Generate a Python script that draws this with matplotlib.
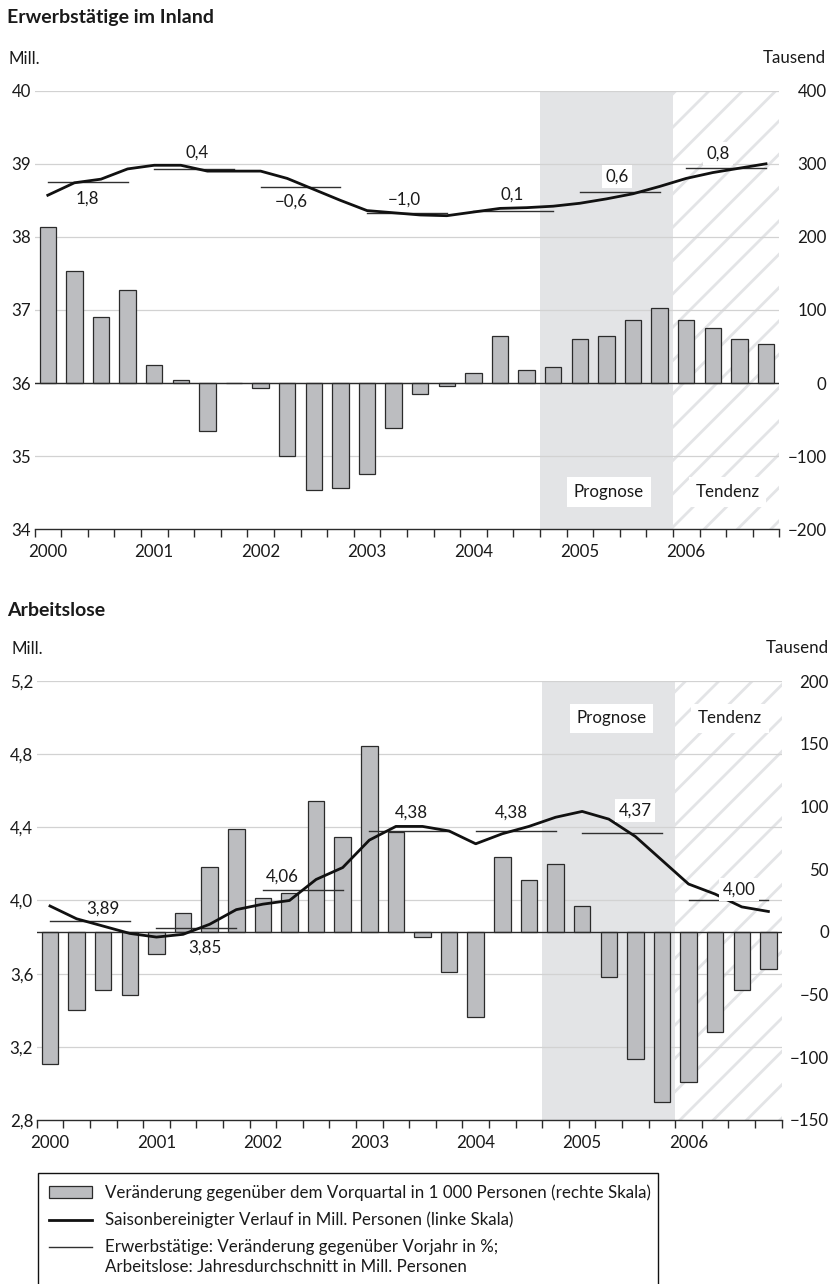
import numpy as np
import matplotlib
matplotlib.use('Agg')
import matplotlib.pyplot as plt
from matplotlib.patches import Rectangle
from matplotlib.lines import Line2D

plt.rcParams['font.family'] = ['Lato', 'DejaVu Sans']
plt.rcParams['hatch.linewidth'] = 2.0

# ---- data -------------------------------------------------------------
years = ['2000', '2001', '2002', '2003', '2004', '2005', '2006']

# Erwerbstätige: Veränderung gg. Vorquartal (Tausend) und Niveau (Mill.)
emp_change = [214, 154, 90, 128, 25, 4, -65, 0, -7, -100, -146, -143, -125, -61,
              -15, -4, 14, 65, 18, 22, 61, 65, 86, 103, 86, 75, 61, 54]
emp_level = [38.57, 38.74, 38.79, 38.93, 38.98, 38.98, 38.90, 38.90, 38.90, 38.80,
             38.65, 38.50, 38.36, 38.33, 38.30, 38.29, 38.34, 38.39, 38.40, 38.42,
             38.46, 38.52, 38.59, 38.69, 38.80, 38.88, 38.94, 39.00]
emp_avg = [38.75, 38.93, 38.68, 38.33, 38.36, 38.61, 38.94]
emp_avg_text = ['1,8', '0,4', '\u22120,6', '\u22121,0', '0,1', '0,6', '0,8']

# Arbeitslose
unemp_change = [-105, -62, -46, -50, -18, 15, 52, 82, 27, 31, 104, 76, 148, 80,
                -4, -32, -68, 60, 41, 54, 21, -36, -101, -136, -120, -80, -46, -30]
unemp_level = [3.97, 3.90, 3.86, 3.82, 3.80, 3.815, 3.87, 3.95, 3.98, 4.00, 4.115,
               4.18, 4.33, 4.405, 4.405, 4.38, 4.31, 4.365, 4.405, 4.455, 4.487,
               4.445, 4.35, 4.22, 4.09, 4.035, 3.965, 3.94]
unemp_avg = [3.89, 3.85, 4.06, 4.38, 4.38, 4.37, 4.00]
unemp_avg_text = ['3,89', '3,85', '4,06', '4,38', '4,38', '4,37', '4,00']

prognose = (19, 24)
tendenz = (24, 28)

W, H = 830, 1284
BAR = '#bcbdc0'
DARK = '#2b2b2b'
FS = 12.2

fig = plt.figure(figsize=(W / 100, H / 100), dpi=100)


def px_axes(x0, y0, x1, y1):
    return fig.add_axes([x0 / W, 1 - y1 / H, (x1 - x0) / W, (y1 - y0) / H])


def fig_text(x, y, s, size=FS, **kw):
    fig.text(x / W, 1 - y / H, s, va='center', fontsize=size, color='#1a1a1a', **kw)


def panel(ax, change, level, avg, avg_text, llim, lticks, ltext, rlim, rticks,
          label_dx, label_dy, tag_y):
    l0, l1 = llim
    r0, r1 = rlim

    def to_r(v):
        return (np.asarray(v) - l0) / (l1 - l0) * (r1 - r0) + r0

    def to_l(v):
        return (np.asarray(v) - r0) / (r1 - r0) * (l1 - l0) + l0

    x = np.arange(len(change)) + 0.5
    zero = float(to_l(0))

    ax.axvspan(*prognose, color='#e3e4e6', lw=0, zorder=0)
    ax.axvspan(*tendenz, facecolor='white', edgecolor='#e3e4e6', hatch='/', lw=0, zorder=0)
    for t in lticks[1:]:
        ax.axhline(t, color='#d2d2d2', lw=0.9, zorder=0.5)

    ax.bar(x, to_l(change) - zero, bottom=zero, width=0.62, color=BAR,
           edgecolor=DARK, linewidth=0.9, zorder=2)
    ax.axhline(zero, color=DARK, lw=1.0, zorder=2.5)

    for k, v in enumerate(avg):
        ax.plot([4 * k + 0.5, 4 * k + 3.5], [v, v], color='#303030', lw=1.0, zorder=3)
        box = None
        if k >= 5:
            box = dict(boxstyle='square,pad=0.2', fc='white', ec='none')
        ax.annotate(avg_text[k], xy=(4 * k + 2 + label_dx[k], v), xytext=(0, label_dy[k]),
                    textcoords='offset points', ha='center', va='center',
                    fontsize=FS, color='#1a1a1a', bbox=box, zorder=5)

    ax.plot(x, level, color='#111111', lw=2.0, zorder=4)

    tr = ax.get_xaxis_transform()
    box = dict(boxstyle='square,pad=0.4', fc='white', ec='none')
    ax.text(21.6, tag_y, 'Prognose', transform=tr, ha='center', va='center',
            fontsize=FS, color='#1a1a1a', bbox=box, zorder=6)
    ax.text(26.05, tag_y, 'Tendenz', transform=tr, ha='center', va='center',
            fontsize=FS, color='#1a1a1a', bbox=box, zorder=6)

    ax.set_xlim(0, 28)
    ax.set_ylim(l0, l1)
    ax.set_xticks(np.arange(7) * 4 + 0.5)
    ax.set_xticklabels(years)
    ax.set_xticks(np.arange(29), minor=True)
    ax.tick_params(axis='x', which='major', length=0, pad=10.5, labelsize=FS,
                   labelcolor='#1a1a1a')
    ax.tick_params(axis='x', which='minor', length=6, width=1.0, color=DARK,
                   direction='out')
    ax.set_yticks(lticks)
    ax.set_yticklabels(ltext)
    ax.tick_params(axis='y', length=0, pad=2.5, labelsize=FS, labelcolor='#1a1a1a')
    for s in ('top', 'left', 'right'):
        ax.spines[s].set_visible(False)
    ax.spines['bottom'].set_color(DARK)
    ax.spines['bottom'].set_linewidth(1.0)

    sec = ax.secondary_yaxis('right', functions=(to_r, to_l))
    sec.set_yticks(rticks)
    sec.set_yticklabels([str(t).replace('-', '\u2212') for t in rticks])
    sec.tick_params(length=0, pad=34, labelsize=FS, labelcolor='#1a1a1a')
    plt.setp(sec.get_yticklabels(), ha='right')
    sec.spines['right'].set_visible(False)


# ---- Erwerbstätige -------------------------------------------------------
ax1 = px_axes(34.5, 90.7, 779.3, 529.3)
panel(ax1, emp_change, emp_level, emp_avg, emp_avg_text,
      (34, 40), [34, 35, 36, 37, 38, 39, 40], ['34', '35', '36', '37', '38', '39', '40'],
      (-200, 400), [-200, -100, 0, 100, 200, 300, 400],
      [0.0, 0.1, -0.36, -0.1, -0.05, -0.1, -0.3],
      [-12.2, 11.5, -10.1, 9.4, 11.5, 11.5, 10.8], 0.085)

# ---- Arbeitslose ---------------------------------------------------------
ax2 = px_axes(36.7, 681.0, 781.7, 1120.0)
panel(ax2, unemp_change, unemp_level, unemp_avg, unemp_avg_text,
      (2.8, 5.2), [2.8, 3.2, 3.6, 4.0, 4.4, 4.8, 5.2],
      ['2,8', '3,2', '3,6', '4,0', '4,4', '4,8', '5,2'],
      (-150, 200), [-150, -100, -50, 0, 50, 100, 150, 200],
      [0.47, 0.33, -0.78, 0.1, -0.14, 0.5, 0.4],
      [8.6, -14.4, 9.4, 13.0, 13.0, 15.8, 7.9], 0.915)

# ---- Titel und Einheiten -------------------------------------------------
fig_text(7, 18, 'Erwerbstätige im Inland', size=14, fontweight='bold')
fig_text(8, 59, 'Mill.')
fig_text(826, 58, 'Tausend', ha='right')
fig_text(7, 610, 'Arbeitslose', size=14, fontweight='bold')
fig_text(11, 649, 'Mill.')
fig_text(829, 648, 'Tausend', ha='right')

# ---- Legende -------------------------------------------------------------
fig.add_artist(Rectangle((38.3 / W, 1 - 1295 / H), (658.3 - 38.3) / W, (1295 - 1173.3) / H,
                         transform=fig.transFigure, fill=False, ec='#111111', lw=1.0))
fig.add_artist(Rectangle((49.3 / W, 1 - 1198.3 / H), 43 / W, 12.6 / H,
                         transform=fig.transFigure, fc=BAR, ec=DARK, lw=0.9))
fig.add_artist(Line2D([49 / W, 92 / W], [1 - 1220 / H] * 2, transform=fig.transFigure,
                      color='#111111', lw=2.0))
fig.add_artist(Line2D([49 / W, 92 / W], [1 - 1246.7 / H] * 2, transform=fig.transFigure,
                      color='#303030', lw=1.0))
fig_text(105, 1193, 'Veränderung gegenüber dem Vorquartal in 1 000 Personen (rechte Skala)')
fig_text(105, 1220, 'Saisonbereinigter Verlauf in Mill. Personen (linke Skala)')
fig_text(105, 1247, 'Erwerbstätige: Veränderung gegenüber Vorjahr in %;')
fig_text(105, 1267, 'Arbeitslose: Jahresdurchschnitt in Mill. Personen')

fig.savefig('out.png', dpi=100)
